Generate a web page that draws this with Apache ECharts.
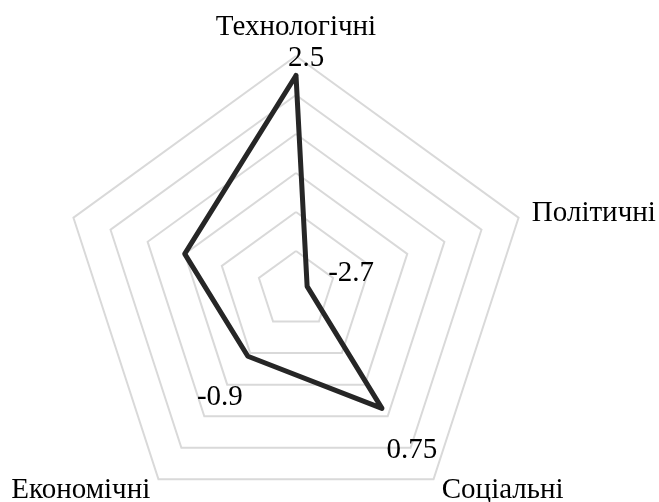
<!DOCTYPE html>
<html>
<head>
<meta charset="utf-8">
<script src="https://cdn.jsdelivr.net/npm/echarts@6/dist/echarts.min.js"></script>
<style>
html, body { margin: 0; padding: 0; background: #fff; }
#main { width: 659px; height: 502px; }
</style>
</head>
<body>
<div id="main"></div>
<script>
// indicators go counterclockwise from the top
var names = ['Технологічні', '', 'Економічні', 'Соціальні', 'Політичні'];
var values = [2.5, 0, -0.9, 0.75, -2.7];
var axisMin = -3;
var axisMax = 3;

// where each value label sits relative to its point
var labelOffsets = {
	'2.5': [10, -17],
	'-2.7': [44, -13],
	'0.75': [30, 42],
	'-0.9': [-28, 41]
};

var chart = echarts.init(document.getElementById('main'));

var indicator = names.map(function(n) {
	return { name: n, min: axisMin, max: axisMax };
});

var series = [{
	type: 'radar',
	symbol: 'none',
	silent: true,
	lineStyle: {
		color: '#262626',
		width: 5,
		cap: 'round',
		join: 'round'
	},
	data: [{ value: values }]
}];

// one invisible series per label so each can have its own offset
Object.keys(labelOffsets).forEach(function(key) {
	series.push({
		type: 'radar',
		symbol: 'circle',
		symbolSize: 1,
		silent: true,
		itemStyle: { color: 'rgba(0,0,0,0)' },
		lineStyle: { width: 0, opacity: 0 },
		label: {
			show: true,
			position: 'inside',
			offset: labelOffsets[key],
			color: '#000',
			fontFamily: 'Liberation Serif',
			fontSize: 29,
			formatter: function(p) {
				return String(p.value) === key ? key : '';
			}
		},
		data: [{ value: values }]
	});
});

var option = {
	backgroundColor: '#fff',
	animation: false,
	radar: {
		center: [296, 290],
		radius: 234,
		startAngle: 90,
		splitNumber: 6,
		shape: 'polygon',
		indicator: indicator,
		nameGap: 14,
		axisName: {
			color: '#000',
			fontFamily: 'Liberation Serif',
			fontSize: 29
		},
		axisLine: { show: false },
		axisTick: { show: false },
		axisLabel: { show: false },
		splitArea: { show: false },
		splitLine: {
			lineStyle: { color: '#d9d9d9', width: 2 }
		}
	},
	series: series
};

chart.setOption(option);
</script>
</body>
</html>
